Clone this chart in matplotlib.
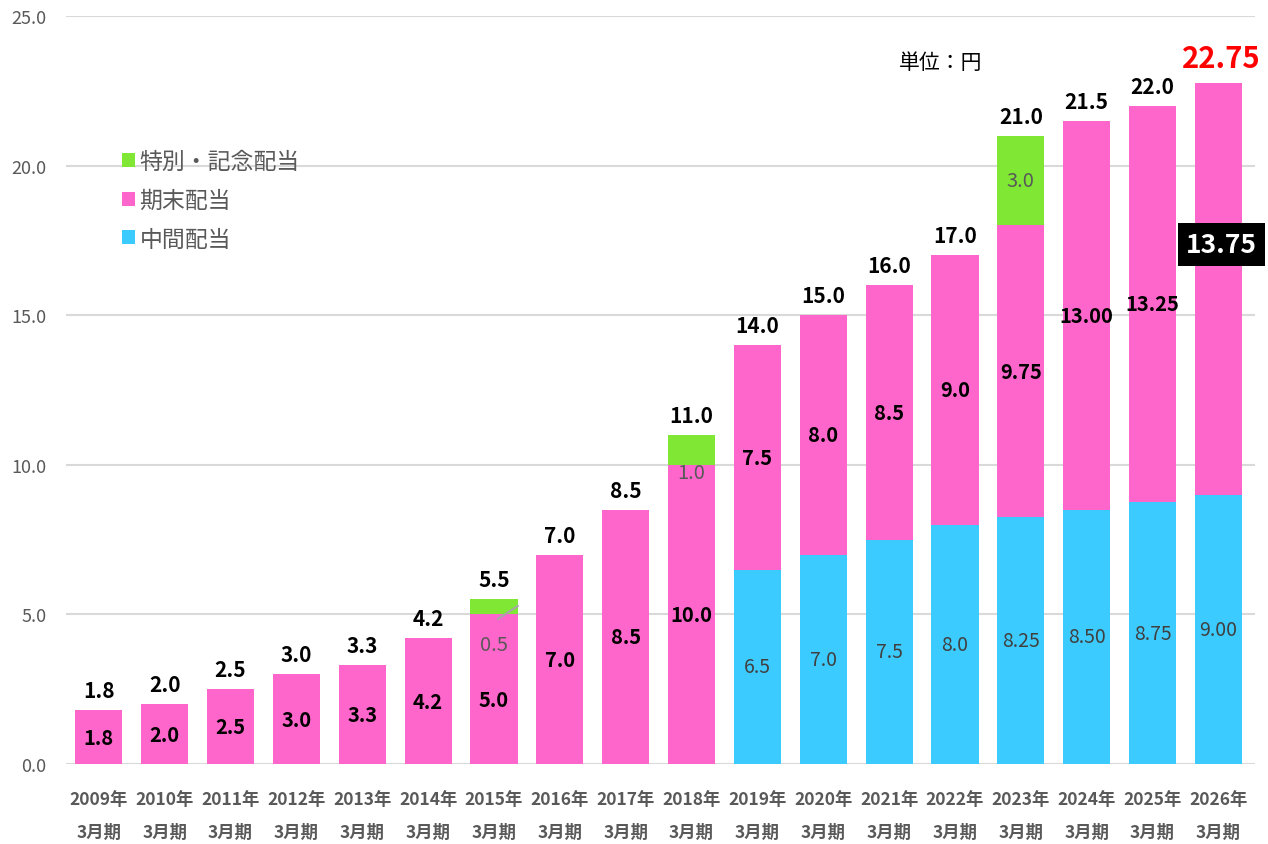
import matplotlib
matplotlib.use("Agg")
import matplotlib.pyplot as plt
import numpy as np

plt.rcParams['font.family'] = ['Noto Sans CJK JP', 'DejaVu Sans']

years = ["2009年", "2010年", "2011年", "2012年", "2013年", "2014年", "2015年", "2016年", "2017年",
         "2018年", "2019年", "2020年", "2021年", "2022年", "2023年", "2024年", "2025年", "2026年"]
period = "3月期"
interim = [0, 0, 0, 0, 0, 0, 0, 0, 0, 0, 6.5, 7.0, 7.5, 8.0, 8.25, 8.5, 8.75, 9.0]
year_end = [1.8, 2.0, 2.5, 3.0, 3.3, 4.2, 5.0, 7.0, 8.5, 10.0, 7.5, 8.0, 8.5, 9.0, 9.75, 13.0, 13.25, 13.75]
special = [0, 0, 0, 0, 0, 0, 0.5, 0, 0, 1.0, 0, 0, 0, 0, 3.0, 0, 0, 0]

interim_labels = ["", "", "", "", "", "", "", "", "", "", "6.5", "7.0", "7.5", "8.0", "8.25", "8.50", "8.75", "9.00"]
year_end_labels = ["1.8", "2.0", "2.5", "3.0", "3.3", "4.2", "5.0", "7.0", "8.5", "10.0", "7.5", "8.0", "8.5",
                   "9.0", "9.75", "13.00", "13.25", "13.75"]
special_labels = ["", "", "", "", "", "", "0.5", "", "", "1.0", "", "", "", "", "3.0", "", "", ""]
total_labels = ["1.8", "2.0", "2.5", "3.0", "3.3", "4.2", "5.5", "7.0", "8.5", "11.0", "14.0", "15.0", "16.0",
                "17.0", "21.0", "21.5", "22.0", "22.75"]

c_blue = "#3CCBFF"
c_pink = "#FF66CC"
c_green = "#80E834"

fig = plt.figure(figsize=(12.68, 8.45), dpi=100)
ax = fig.add_axes([0.052, 0.0947, 0.938, 0.8852])

x = np.arange(len(years))
w = 0.715
interim = np.array(interim)
year_end = np.array(year_end)
special = np.array(special)

b1 = ax.bar(x, interim, w, color=c_blue, label="中間配当", zorder=2)
b2 = ax.bar(x, year_end, w, bottom=interim, color=c_pink, label="期末配当", zorder=2)
b3 = ax.bar(x, special, w, bottom=interim + year_end, color=c_green, label="特別・記念配当", zorder=2)

ax.set_ylim(0, 25)
ax.set_xlim(-0.5, 17.56)
ax.set_yticks(np.arange(0, 25.1, 5))
ax.yaxis.set_major_formatter(matplotlib.ticker.FormatStrFormatter("%.1f"))
ax.grid(axis='y', color="#D9D9D9", linewidth=1.5, zorder=0)
ax.set_axisbelow(True)
for s in ax.spines.values():
    s.set_visible(False)
ax.tick_params(axis='y', length=0, labelsize=13, labelcolor="#595959", pad=14)
ax.tick_params(axis='x', length=0, pad=19)
ax.set_xticks(x)
ax.set_xticklabels([f"{y}\n{period}" for y in years], fontsize=12.5, fontweight='bold',
                   color="#595959", linespacing=2.05)

for i in x:
    if interim_labels[i]:
        ax.text(i, interim[i] / 2, interim_labels[i], ha='center', va='center', fontsize=14,
                color="#404040", zorder=3)
    yc = interim[i] + year_end[i] / 2
    if i == 17:
        ax.text(i + 0.05, interim[i] + year_end[i] + special[i] - 5.4, year_end_labels[i], ha='center',
                va='center', fontsize=19, fontweight='bold', color='white', zorder=4,
                bbox=dict(boxstyle='square,pad=0.3', facecolor='black', edgecolor='none'))
    else:
        if i == 6:
            yc -= 0.35
        ax.text(i, yc, year_end_labels[i], ha='center', va='center', fontsize=14.5, fontweight='bold',
                color='black', zorder=3)
    if special_labels[i]:
        top = interim[i] + year_end[i]
        if i == 6:
            ax.text(i, top - 1.0, special_labels[i], ha='center', va='center', fontsize=14.5,
                    color="#595959", zorder=3)
            ax.plot([i + 0.06, i + 0.36], [top - 0.15, top + 0.28], color="#A6A6A6", lw=1.5, zorder=3)
        elif i == 9:
            ax.text(i, top - 0.27, special_labels[i], ha='center', va='center', fontsize=14.5,
                    color="#595959", zorder=3)
        else:
            ax.text(i, top + special[i] / 2, special_labels[i], ha='center', va='center', fontsize=14.5,
                    color="#595959", zorder=3)
    tot = interim[i] + year_end[i] + special[i]
    if i == 17:
        ax.text(i + 0.05, tot + 0.35, total_labels[i], ha='center', va='bottom', fontsize=21,
                fontweight='bold', color='#FF0000', zorder=3)
    else:
        ax.text(i, tot + 0.3, total_labels[i], ha='center', va='bottom', fontsize=15,
                fontweight='bold', color='black', zorder=3)

ax.text(12.78, 23.45, "単位：円", ha='center', va='center', fontsize=15, color='black')

leg = ax.legend(handles=[b3, b2, b1], loc='upper left', bbox_to_anchor=(0.03, 0.848), frameon=False,
                fontsize=16.5, handlelength=0.55, handleheight=0.55, handletextpad=0.2, labelspacing=0.68,
                labelcolor="#595959")

fig.savefig("out.png", dpi=100)
